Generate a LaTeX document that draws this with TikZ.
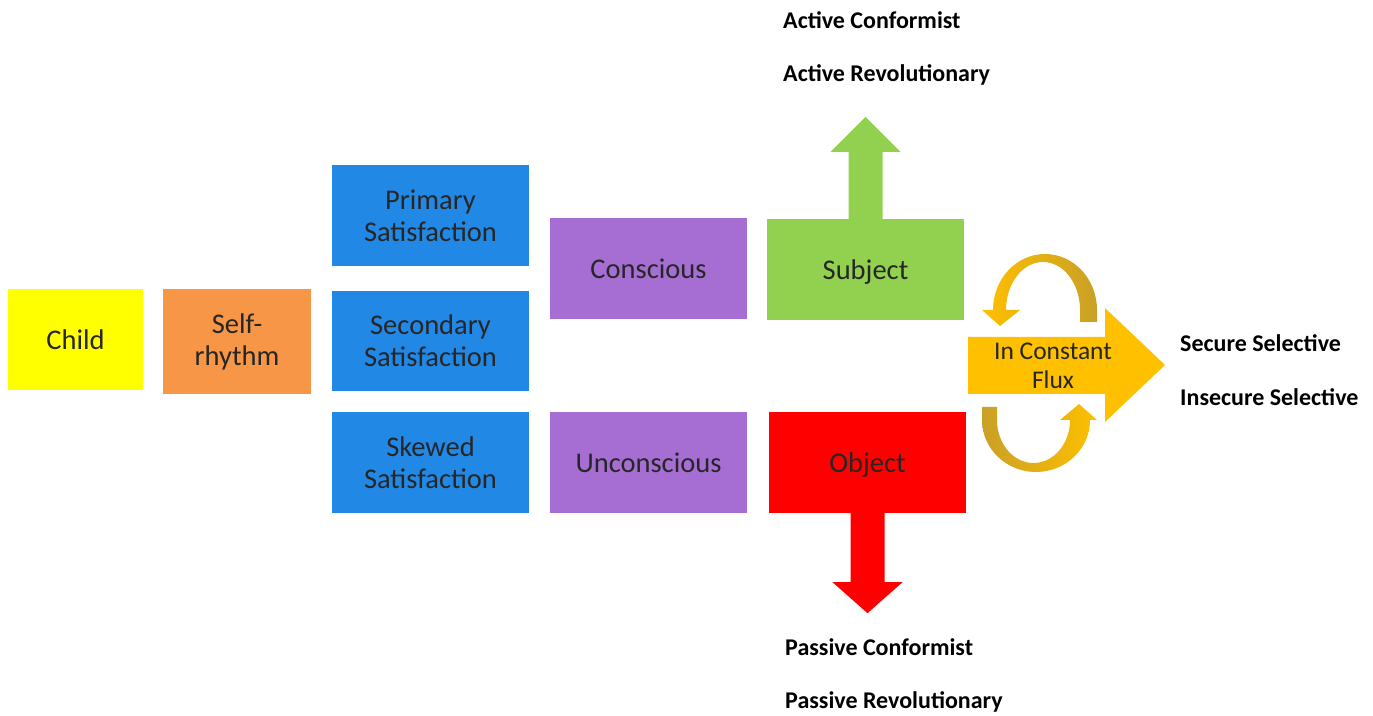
\documentclass[tikz,border=0pt]{standalone}
\usepackage{fontspec}
\setmainfont{Carlito}
\usepackage{xcolor}

\definecolor{childyellow}{HTML}{FFFF00}
\definecolor{rhythmorange}{HTML}{F79646}
\definecolor{satblue}{HTML}{2188E6}
\definecolor{mindpurple}{HTML}{A66ED2}
\definecolor{subjgreen}{HTML}{92D050}
\definecolor{objred}{HTML}{FF0000}
\definecolor{fluxgold}{HTML}{FFC000}
\definecolor{fluxdark}{HTML}{C9A026}
\definecolor{boxtext}{HTML}{262626}

\begin{document}
\begin{tikzpicture}[x=1pt,y=1pt,
    box/.style={minimum width=197pt, minimum height=101pt, inner sep=0pt,
        align=center, text=boxtext, font=\fontsize{28.5}{32}\selectfont},
    onebox/.style={box, text height=25pt, text depth=5pt},
    tag/.style={anchor=west, inner sep=0pt, font=\fontsize{24}{28}\selectfont\bfseries}]
    \useasboundingbox (0,0) rectangle (1373,715);

    % Start
    \node[onebox, fill=childyellow, minimum width=135pt] (child) at (75.5,375.5) {Child};
    \node[box, fill=rhythmorange, minimum width=148pt, minimum height=105pt] (rhythm) at (237,373.5) {Self-\\rhythm};

    % Satisfaction
    \node[box, fill=satblue] (primary) at (430.5,499.5) {Primary\\Satisfaction};
    \node[box, fill=satblue, minimum height=100pt] (secondary) at (430.5,374) {Secondary\\Satisfaction};
    \node[box, fill=satblue] (skewed) at (430.5,252.5) {Skewed\\Satisfaction};

    % Mind
    \node[onebox, fill=mindpurple] (conscious) at (648.5,446.5) {Conscious};
    \node[onebox, fill=mindpurple] (unconscious) at (648.5,252.5) {Unconscious};

    % Subject and object
    \node[onebox, fill=subjgreen] (subject) at (865.5,445.5) {Subject};
    \node[onebox, fill=objred] (object) at (867.5,252.5) {Object};

    % Up and down arrows
    \fill[subjgreen, shift={(subject.north)}] (-17,0) -- (-17,67) -- (-35,67) -- (0,102)
        -- (35,67) -- (17,67) -- (17,0) -- cycle;
    \fill[objred, shift={(object.south)}] (-17,0) -- (-17,-69) -- (-35,-69) -- (0,-100)
        -- (35,-69) -- (17,-69) -- (17,0) -- cycle;

    % In constant flux
    \fill[fluxgold] (968,321) -- (1105,321) -- (1105,293) -- (1165,350) -- (1105,407)
        -- (1105,378) -- (968,378) -- cycle;
    \node[text=boxtext, align=center, font=\fontsize{25.5}{29}\selectfont] (flux) at (1053,349.5) {In Constant\\Flux};

    % Turning arrows
    \shade[left color=fluxgold, right color=fluxdark] (1097,393) -- (1097,405)
        arc[start angle=0, end angle=180, x radius=52, y radius=56]
        -- (982,405) -- (1000,389) -- (1020,405) -- (1006,405)
        arc[start angle=180, end angle=0, x radius=37, y radius=48]
        -- (1080,393) -- cycle;
    \shade[left color=fluxdark, right color=fluxgold] (982,308) -- (982,295)
        arc[start angle=180, end angle=360, x radius=54, y radius=52]
        -- (1097,295) -- (1079,311) -- (1060,295) -- (1070,295)
        arc[start angle=0, end angle=-180, x radius=36.5, y radius=43]
        -- (997,308) -- cycle;

    % Outcomes
    \node[tag] (actconf) at (783,695) {Active Conformist};
    \node[tag] (actrev) at (783,640) {Active Revolutionary};
    \node[tag] (pasconf) at (785,68) {Passive Conformist};
    \node[tag] (pasrev) at (785,13) {Passive Revolutionary};
    \node[tag] (secure) at (1180,372) {Secure Selective};
    \node[tag] (insecure) at (1180,318) {Insecure Selective};
\end{tikzpicture}
\end{document}
